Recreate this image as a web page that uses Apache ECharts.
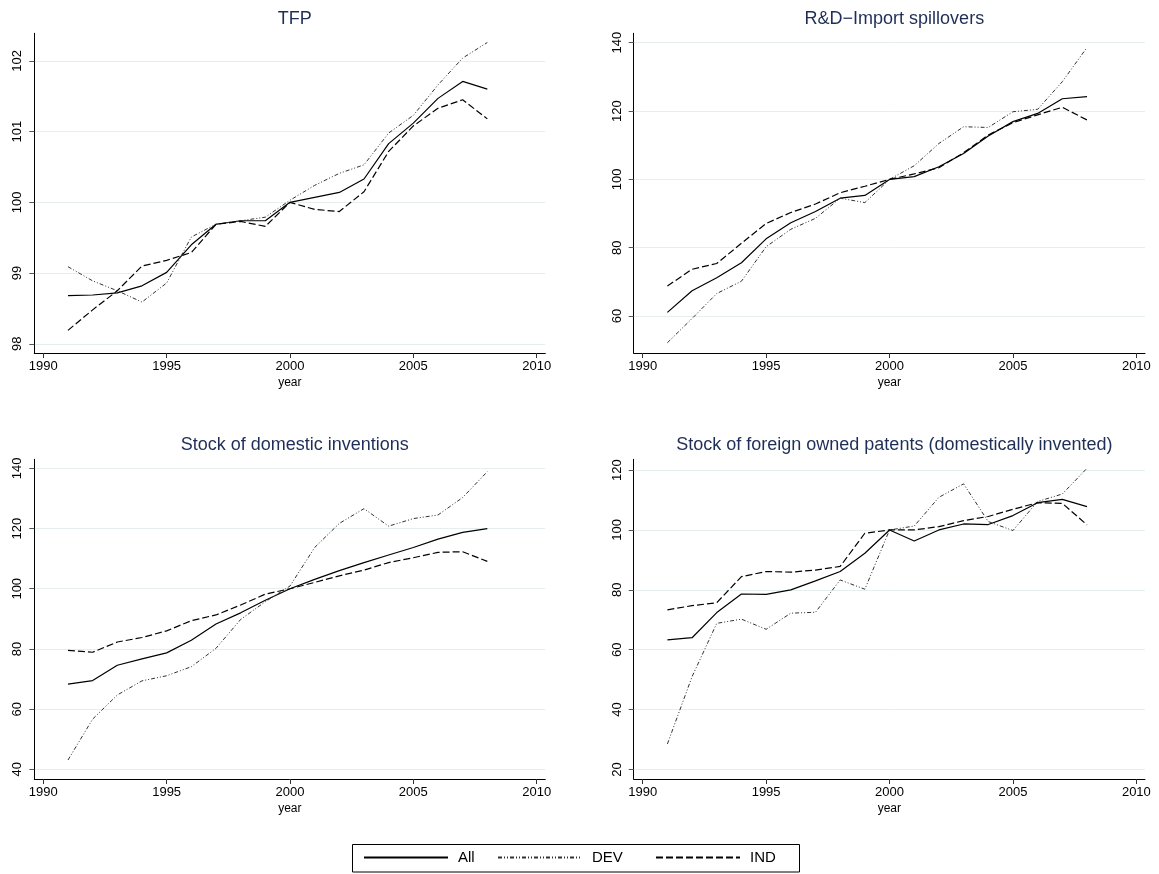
<!DOCTYPE html>
<html>
<head>
<meta charset="utf-8">
<script src="https://cdn.jsdelivr.net/npm/echarts@6/dist/echarts.min.js"></script>
<style>html,body{margin:0;padding:0;background:#fff}#c{width:1159px;height:874px}</style>
</head>
<body>
<div id="c"></div>
<script>
const years = [1991,1992,1993,1994,1995,1996,1997,1998,1999,2000,2001,2002,2003,2004,2005,2006,2007,2008];
const seriesNames = ['All','DEV','IND'];
const panelTitles = ['TFP','R&D\u2212Import spillovers','Stock of domestic inventions','Stock of foreign owned patents (domestically invented)'];

const tfpAll = [98.68,98.69,98.72,98.82,99.01,99.40,99.69,99.74,99.74,100.00,100.07,100.14,100.33,100.83,101.12,101.47,101.71,101.60];
const tfpDev = [99.09,98.89,98.75,98.59,98.86,99.51,99.69,99.74,99.79,100.03,100.24,100.41,100.53,100.98,101.23,101.66,102.04,102.26];
const tfpInd = [98.19,98.48,98.75,99.10,99.18,99.29,99.69,99.73,99.66,100.00,99.90,99.87,100.15,100.72,101.08,101.33,101.45,101.18];

const rdAll = [61.1,67.4,71.2,75.6,82.6,87.3,90.6,94.5,95.3,100.0,100.8,103.7,107.6,112.7,116.9,119.3,123.6,124.2];
const rdDev = [52.2,59.3,66.6,70.2,80.3,85.4,88.6,94.5,93.2,100.0,104.0,110.5,115.4,115.2,119.8,120.5,128.6,138.6];
const rdInd = [68.8,73.7,75.4,81.3,87.1,90.3,92.8,96.1,98.0,100.0,101.6,103.4,107.8,113.0,116.6,118.9,121.1,117.4];

const domAll = [68.3,69.5,74.6,76.7,78.7,82.9,88.3,92.0,96.2,100.0,103.1,106.0,108.7,111.2,113.7,116.5,118.7,120.0];
const domDev = [43.1,56.7,64.7,69.4,71.1,74.1,80.2,89.8,95.7,100.9,113.7,121.7,126.6,120.8,123.3,124.5,130.3,138.9];
const domInd = [79.5,78.9,82.3,83.8,86.0,89.4,91.3,94.6,98.2,100.0,102.1,104.3,106.2,108.7,110.3,112.1,112.3,109.1];

const forAll = [63.3,64.0,72.4,78.6,78.5,80.0,83.0,86.1,92.2,100.0,96.3,100.0,102.0,101.8,104.8,109.1,110.2,107.8];
const forDev = [28.5,51.0,68.8,70.2,66.8,72.2,72.5,83.3,80.2,100.0,101.3,110.9,115.4,102.8,99.8,109.5,112.0,120.6];
const forInd = [73.3,74.7,75.7,84.4,86.1,85.9,86.6,87.8,98.9,100.0,100.0,101.1,103.1,104.5,106.9,109.1,108.9,101.7];

const xTicks = [1990,1995,2000,2005,2010];
const tfpTicks = [98,99,100,101,102];
const rdTicks = [60,80,100,120,140];
const domTicks = [40,60,80,100,120,140];
const forTicks = [20,40,60,80,100,120];

const panels = [
  {data:[tfpAll,tfpDev,tfpInd], ticks:tfpTicks, min:97.87, max:102.39},
  {data:[rdAll,rdDev,rdInd], ticks:rdTicks, min:49.2, max:142.75},
  {data:[domAll,domDev,domInd], ticks:domTicks, min:36.8, max:143.0},
  {data:[forAll,forDev,forInd], ticks:forTicks, min:16.8, max:123.6}
];

const grids = [
  {left:34.3, top:33.3, width:511, height:319.7},
  {left:633.7, top:33.3, width:511.3, height:319.7},
  {left:34.3, top:459.3, width:511, height:319.7},
  {left:633.7, top:459.3, width:511.3, height:319.7}
];

const lineStyles = [
  {color:'#000', width:1.2, type:'solid'},
  {color:'#333', width:1, type:[4,2,1,2,1,2]},
  {color:'#000', width:1.2, type:[7,3]}
];

const FONT = 'Liberation Sans, Arial, sans-serif';
const legendLefts = [363, 497, 655];

const option = {
  animation:false,
  backgroundColor:'#fff',
  textStyle:{fontFamily:FONT},
  title: panelTitles.map((t,i)=>({
    text:t,
    left: grids[i].left + grids[i].width/2,
    textAlign:'center',
    top: grids[i].top - 28,
    textStyle:{fontFamily:FONT, fontSize:18, fontWeight:'normal', color:'#1f2e57'}
  })),
  grid: grids.map(g=>Object.assign({containLabel:false, show:false}, g)),
  xAxis: grids.map((g,i)=>({
    type:'value', gridIndex:i, min:1989.635, max:2010.35,
    axisLine:{show:true, lineStyle:{color:'#000', width:1}},
    axisTick:{show:true, customValues:xTicks, length:5, lineStyle:{color:'#333'}},
    axisLabel:{customValues:xTicks, fontSize:13, color:'#000', margin:7, fontFamily:FONT, formatter:v=>String(v)},
    splitLine:{show:false},
    name:'year', nameLocation:'middle', nameGap:24,
    nameTextStyle:{fontSize:12, color:'#000', fontFamily:FONT}
  })),
  yAxis: panels.map((p,i)=>({
    type:'value', gridIndex:i, min:p.min, max:p.max,
    axisLine:{show:true, lineStyle:{color:'#000', width:1}},
    axisTick:{show:true, customValues:p.ticks, length:5, lineStyle:{color:'#555'}},
    axisLabel:{customValues:p.ticks, rotate:90, fontSize:13, color:'#000', margin:10, fontFamily:FONT, formatter:v=>String(v)},
    splitLine:{show:true, lineStyle:{color:'#e6eff0', width:1}}
  })),
  legend: seriesNames.map((n,k)=>({
    left:legendLefts[k], top:850,
    orient:'horizontal',
    padding:0,
    itemWidth:84, itemHeight:14,
    itemStyle:{color:'rgba(0,0,0,0)', borderWidth:0, opacity:0},
    selectedMode:false,
    data:[n],
    textStyle:{fontSize:15, color:'#000', fontFamily:FONT, padding:[0,0,0,5]}
  })),
  graphic:[{
    type:'rect',
    shape:{x:352.5, y:844.5, width:447, height:27.5},
    style:{fill:'none', stroke:'#000', lineWidth:1},
    silent:true
  }],
  series: []
};

panels.forEach((p,i)=>{
  p.data.forEach((arr,k)=>{
    option.series.push({
      type:'line', name:seriesNames[k], xAxisIndex:i, yAxisIndex:i,
      symbol:'none', silent:true,
      itemStyle:{color:'#000'},
      lineStyle:lineStyles[k],
      data: years.map((y,j)=>[y, arr[j]])
    });
  });
});

const chart = echarts.init(document.getElementById('c'), null, {renderer:'canvas'});
chart.setOption(option);
</script>
</body>
</html>
